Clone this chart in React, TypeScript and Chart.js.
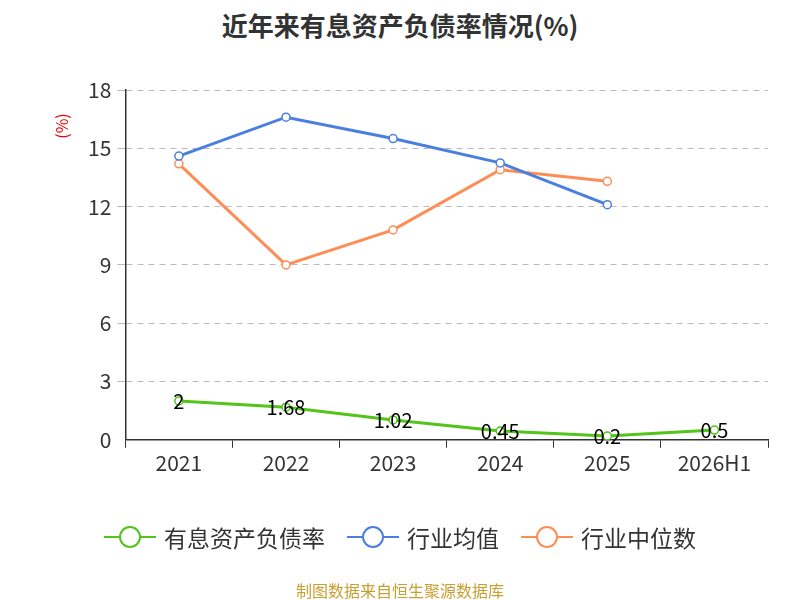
import React, { useEffect, useRef } from "react";
import { Chart, registerables } from "chart.js";
Chart.register(...registerables);

const categories = ["2021", "2022", "2023", "2024", "2025", "2026H1"];
const companyRate = [2, 1.68, 1.02, 0.45, 0.2, 0.5];
const industryAvg = [14.6, 16.6, 15.5, 14.25, 12.1, null];
const industryMedian = [14.2, 9.0, 10.8, 13.9, 13.3, null];
const yTicks = [0, 3, 6, 9, 12, 15, 18];
const FONT = '"Noto Sans CJK SC", "Noto Sans", sans-serif';

const labelPlugin = {
  id: "extras",
  afterDatasetsDraw(chart: any) {
    const ctx = chart.ctx;
    const meta = chart.getDatasetMeta(0);
    ctx.save();
    ctx.font = `20px ${FONT}`;
    ctx.fillStyle = "#000";
    ctx.textAlign = "center";
    ctx.textBaseline = "middle";
    meta.data.forEach((p: any, i: number) => {
      ctx.fillText(String(companyRate[i]), p.x, p.y);
    });
    ctx.restore();
    ctx.save();
    ctx.translate(62, 126);
    ctx.rotate(-Math.PI / 2);
    ctx.font = `16px ${FONT}`;
    ctx.fillStyle = "#e00";
    ctx.textAlign = "center";
    ctx.textBaseline = "middle";
    ctx.fillText("(%)", 0, 0);
    ctx.restore();
  },
};

const legendItems = [
  { name: "有息资产负债率", color: "#52c41a" },
  { name: "行业均值", color: "#4a7fe0" },
  { name: "行业中位数", color: "#ff8c55" },
];

export default function App() {
  const ref = useRef<HTMLCanvasElement>(null);
  useEffect(() => {
    const ds = (label: string, data: any[], color: string) => ({
      label, data, borderColor: color, backgroundColor: "#fff",
      pointBorderColor: color, pointBackgroundColor: "#fff",
      pointRadius: 4, pointBorderWidth: 1.5, borderWidth: 3, tension: 0,
    });
    const chart = new Chart(ref.current!, {
      type: "line",
      data: {
        labels: categories,
        datasets: [
          ds("有息资产负债率", companyRate, "#52c41a"),
          ds("行业均值", industryAvg, "#4a7fe0"),
          ds("行业中位数", industryMedian, "#ff8c55"),
        ],
      },
      options: {
        animation: false,
        responsive: false,
        layout: { padding: { left: 82, right: 32, top: 90, bottom: 121 } },
        plugins: { legend: { display: false }, tooltip: { enabled: false } },
        scales: {
          x: {
            offset: true,
            grid: { display: true, drawOnChartArea: false, tickLength: 8, offset: true, color: "#333" },
            border: { color: "#333", width: 1.5 },
            ticks: { font: { size: 21, family: FONT }, color: "#333" },
          },
          y: {
            min: 0, max: 18,
            afterBuildTicks: (a: any) => { a.ticks = yTicks.map((v) => ({ value: v })); },
            grid: { color: "#bbb", tickLength: 8, lineWidth: (c: any) => (c.tick && c.tick.value === 0 ? 0 : 1) },
            border: { color: "#333", width: 1.5, dash: [6, 5] },
            ticks: { font: { size: 21, family: FONT }, color: "#333", padding: 6 },
          },
        },
      },
      plugins: [labelPlugin],
    });
    return () => chart.destroy();
  }, []);
  return (
    <div style={{ position: "absolute", left: 0, top: 0, width: 800, height: 600, background: "#fff", fontFamily: FONT }}>
      <div style={{ position: "absolute", top: 6, width: 800, textAlign: "center", fontSize: 26, fontWeight: "bold", color: "#333" }}>
        近年来有息资产负债率情况(%)
      </div>
      <canvas ref={ref} width={800} height={600} style={{ position: "absolute", left: 0, top: 0 }} />
      <div style={{ position: "absolute", top: 520, width: 800, display: "flex", justifyContent: "center", gap: 22, fontSize: 23, color: "#333" }}>
        {legendItems.map((l) => (
          <div key={l.name} style={{ display: "flex", alignItems: "center", gap: 8 }}>
            <svg width={52} height={30}>
              <line x1={0} y1={15} x2={52} y2={15} stroke={l.color} strokeWidth={2} />
              <circle cx={26} cy={15} r={10} fill="#fff" stroke={l.color} strokeWidth={2} />
            </svg>
            <span>{l.name}</span>
          </div>
        ))}
      </div>
      <div style={{ position: "absolute", top: 578, width: 800, textAlign: "center", fontSize: 16, color: "#c8a032" }}>
        制图数据来自恒生聚源数据库
      </div>
    </div>
  );
}
